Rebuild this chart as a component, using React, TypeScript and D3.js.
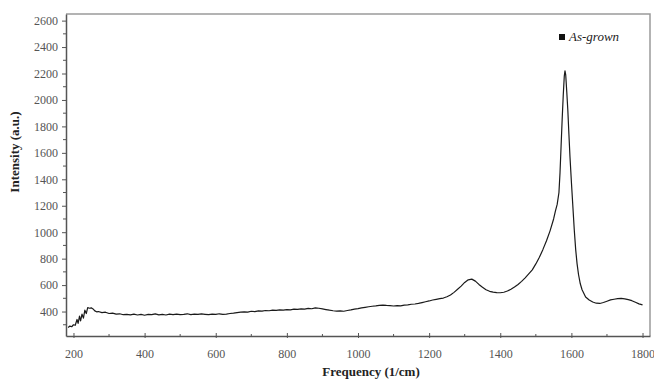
import React, { useEffect, useRef } from 'react';
import * as d3 from 'd3';

// Raman spectrum (frequency in 1/cm, intensity in a.u.)
const frequency = [
  185, 190, 195, 200, 205, 210, 213, 217, 220, 224, 228, 232, 236, 240, 245, 250, 255, 260, 265, 270,
  280, 290, 300, 310, 320, 330, 340, 350, 360, 370, 380, 390, 400, 410, 420, 430, 440, 450, 460, 470,
  480, 490, 500, 510, 520, 530, 540, 550, 560, 570, 580, 590, 600, 610, 620, 630, 640, 650, 660, 670,
  680, 690, 700, 710, 720, 730, 740, 750, 760, 770, 780, 790, 800, 810, 820, 830, 840, 850, 860, 870,
  880, 890, 900, 910, 920, 930, 940, 950, 960, 970, 980, 990, 1000, 1010, 1020, 1030, 1040, 1050, 1060, 1070,
  1080, 1090, 1100, 1110, 1120, 1130, 1140, 1150, 1160, 1170, 1180, 1190, 1200, 1210, 1220, 1230, 1240, 1250, 1260, 1270,
  1280, 1290, 1300, 1310, 1320, 1330, 1340, 1350, 1360, 1370, 1380, 1390, 1400, 1410, 1420, 1430, 1440, 1450, 1460, 1470,
  1480, 1490, 1500, 1510, 1520, 1530, 1540, 1550, 1555, 1560, 1565, 1568, 1571, 1574, 1577, 1580, 1582, 1584, 1587, 1590,
  1593, 1596, 1600, 1604, 1608, 1612, 1616, 1620, 1625, 1630, 1640, 1650, 1660, 1670, 1680, 1690, 1700, 1710, 1720, 1730,
  1740, 1750, 1760, 1770, 1780, 1790, 1800,
];
const intensity = [
  280, 290, 285, 300, 296, 340, 310, 365, 330, 380, 350, 410, 385, 430, 425, 428, 420, 405, 398, 400,
  392, 395, 385, 388, 380, 383, 376, 379, 375, 381, 374, 378, 372, 379, 376, 382, 375, 378, 374, 380,
  377, 381, 376, 379, 383, 377, 381, 378, 382, 379, 376, 380, 378, 383, 379, 381, 385, 388, 392, 395,
  398, 396, 402, 400, 405, 403, 408, 406, 410, 409, 413, 411, 415, 413, 418, 416, 420, 418, 424, 421,
  428, 425, 420, 415, 410, 406, 403, 405, 402, 408, 412, 418, 422, 428, 432, 436, 440, 443, 447, 449,
  446, 444, 442, 445, 443, 448, 450, 455, 457, 462, 468, 474, 480, 487, 492, 497, 502, 512, 525, 545,
  568, 592, 620, 640, 645, 630, 605, 583, 565, 553, 547, 543, 542, 546, 555, 568, 585, 605, 628, 655,
  685, 715, 760, 810, 870, 935, 1010, 1100, 1160, 1210, 1300, 1450, 1650, 1850, 2030, 2180, 2220, 2190, 2060, 1920,
  1740, 1570, 1380, 1200, 1020, 870, 760, 680, 610, 565, 510, 487, 472, 463, 461, 468, 478, 488, 493, 497,
  500, 496, 490, 482, 470, 458, 450,
];
const xTicks = [200, 400, 600, 800, 1000, 1200, 1400, 1600, 1800];
const yTicks = [400, 600, 800, 1000, 1200, 1400, 1600, 1800, 2000, 2200, 2400, 2600];
const seriesName = 'As-grown';

const App = () => {
  const ref = useRef<SVGSVGElement>(null);

  useEffect(() => {
    const width = 654;
    const height = 379;
    const left = 66;
    const right = 650;
    const top = 14;
    const bottom = 336;
    const font = '"Liberation Serif", "Times New Roman", serif';

    const svg = d3.select(ref.current);
    svg.selectAll('*').remove();
    svg.attr('width', width).attr('height', height).style('font-family', font);

    const x = d3.scaleLinear().domain([179, 1821]).range([left, right]);
    const y = d3.scaleLinear().domain([215, 2650]).range([bottom, top]);

    const data = frequency.map((f, i) => [f, intensity[i]] as [number, number]);

    // frame: top and right in light gray
    svg.append('path')
      .attr('d', `M${left},${top}H${right}V${bottom}`)
      .attr('fill', 'none')
      .attr('stroke', '#9a9a9a')
      .attr('stroke-width', 1.5);

    // y axis
    const yAxis = svg.append('g')
      .attr('transform', `translate(${left},0)`)
      .call(d3.axisLeft(y).tickValues(yTicks).tickFormat(d3.format('d')).tickSize(4).tickPadding(4).tickSizeOuter(0));
    yAxis.select('.domain').attr('stroke', '#555').attr('stroke-width', 1.5);
    yAxis.selectAll('.tick line').attr('stroke', '#555');
    yAxis.selectAll('.tick text')
      .attr('fill', '#555').style('font-size', '12px').style('font-family', font);
    svg.append('g')
      .attr('transform', `translate(${left},0)`)
      .selectAll('line')
      .data(d3.range(300, 2700, 200))
      .join('line')
      .attr('x1', -3).attr('x2', 0)
      .attr('y1', d => y(d)).attr('y2', d => y(d))
      .attr('stroke', '#555');

    // x axis
    const xAxis = svg.append('g')
      .attr('transform', `translate(0,${bottom})`)
      .call(d3.axisBottom(x).tickValues(xTicks).tickFormat(d3.format('d')).tickSize(3).tickPadding(10).tickSizeOuter(0));
    xAxis.select('.domain').attr('stroke', '#555').attr('stroke-width', 1.5);
    xAxis.selectAll('.tick line').attr('stroke', '#555').attr('y1', -3).attr('y2', 2);
    xAxis.selectAll('.tick text')
      .attr('fill', '#555').style('font-size', '12px').style('font-family', font);
    svg.append('g')
      .attr('transform', `translate(0,${bottom})`)
      .selectAll('line')
      .data(d3.range(300, 1800, 200))
      .join('line')
      .attr('x1', d => x(d)).attr('x2', d => x(d))
      .attr('y1', -2).attr('y2', 1)
      .attr('stroke', '#555');

    // spectrum
    const line = d3.line<[number, number]>()
      .x(d => x(d[0]))
      .y(d => y(d[1]));
    svg.append('path')
      .datum(data)
      .attr('d', line)
      .attr('fill', 'none')
      .attr('stroke', '#1a1a1a')
      .attr('stroke-width', 1.2)
      .attr('stroke-linejoin', 'round');

    // axis titles
    svg.append('text')
      .attr('x', 371).attr('y', 376)
      .attr('text-anchor', 'middle')
      .style('font-size', '13px').style('font-weight', 'bold')
      .attr('fill', '#222')
      .text('Frequency (1/cm)');
    svg.append('text')
      .attr('transform', `translate(19,152) rotate(-90)`)
      .attr('text-anchor', 'middle')
      .style('font-size', '13px').style('font-weight', 'bold')
      .attr('fill', '#222')
      .text('Intensity (a.u.)');

    // legend
    svg.append('rect')
      .attr('x', 559).attr('y', 34).attr('width', 6).attr('height', 6)
      .attr('fill', '#111');
    svg.append('text')
      .attr('x', 569).attr('y', 41)
      .style('font-size', '13px').style('font-style', 'italic')
      .attr('fill', '#222')
      .text(seriesName);
  }, []);

  return <svg ref={ref} style={{ position: 'absolute', left: 0, top: 0 }} />;
};

export default App;
